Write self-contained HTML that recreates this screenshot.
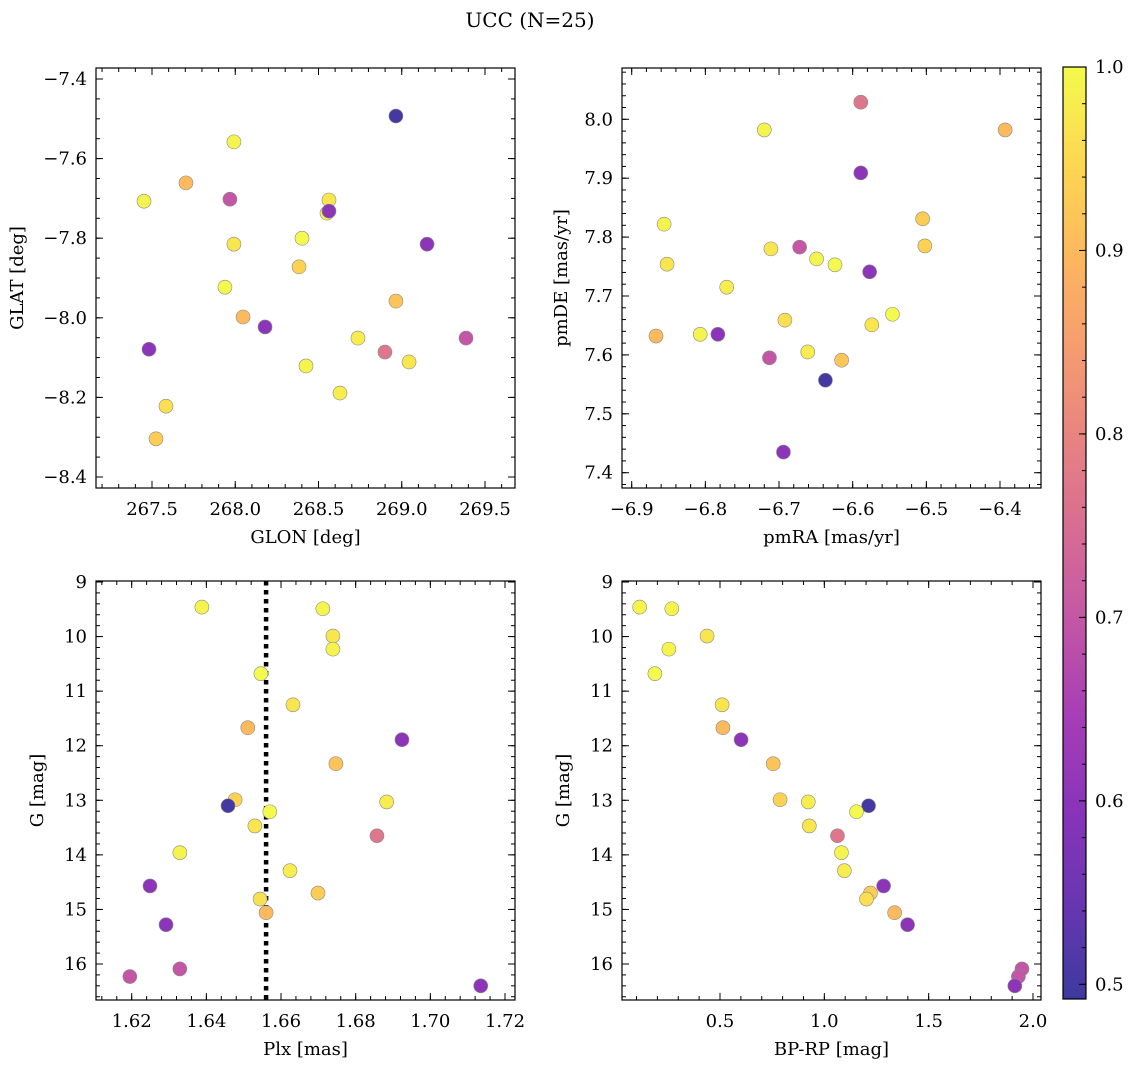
<!DOCTYPE html>
<html><head><meta charset="utf-8"><style>
html,body{margin:0;padding:0;background:#fff;}
svg{display:block;font-family:"DejaVu Serif","Liberation Serif",serif;}
</style></head><body>
<svg id="fig" width="1136" height="1067" viewBox="0 0 1136 1067" xmlns="http://www.w3.org/2000/svg">
<defs><linearGradient id="cbgrad" x1="0" y1="1" x2="0" y2="0"></linearGradient></defs>
<text x="530" y="27" text-anchor="middle" font-size="20">UCC (N=25)</text>
</svg>
<script>
const glon=[267.992,267.452,268.563,268.551,268.401,267.992,267.704,269.152,268.965,268.383,268.965,267.938,268.737,269.044,268.899,268.425,268.629,268.179,267.524,267.584,268.047,267.482,267.968,269.386,268.563];
const glat=[-7.558,-7.707,-7.704,-7.737,-7.800,-7.815,-7.661,-7.815,-7.958,-7.872,-7.493,-7.923,-8.051,-8.111,-8.086,-8.121,-8.189,-8.023,-8.304,-8.222,-7.998,-8.079,-7.702,-8.051,-7.732];
const pmra=[-6.720,-6.856,-6.711,-6.649,-6.624,-6.852,-6.393,-6.589,-6.615,-6.502,-6.637,-6.546,-6.771,-6.574,-6.589,-6.807,-6.661,-6.577,-6.505,-6.692,-6.867,-6.783,-6.672,-6.713,-6.694];
const pmde=[7.982,7.822,7.780,7.763,7.753,7.754,7.982,7.909,7.591,7.785,7.557,7.669,7.715,7.651,8.029,7.635,7.605,7.741,7.831,7.659,7.632,7.635,7.783,7.595,7.435];
const plx=[1.6388,1.6712,1.6739,1.6739,1.6546,1.6632,1.6511,1.6924,1.6747,1.6477,1.6458,1.6570,1.6883,1.6530,1.6857,1.6329,1.6624,1.6249,1.6699,1.6544,1.6560,1.6292,1.6329,1.6195,1.7135];
const gmag=[9.46,9.49,9.99,10.23,10.68,11.25,11.67,11.89,12.33,12.99,13.10,13.21,13.03,13.47,13.65,13.96,14.29,14.57,14.70,14.81,15.06,15.28,16.09,16.23,16.40];
const bprp=[0.115,0.269,0.438,0.255,0.188,0.510,0.514,0.601,0.755,0.788,1.212,1.154,0.923,0.928,1.063,1.082,1.096,1.284,1.221,1.202,1.337,1.399,1.947,1.930,1.913];
const prob=[0.99,0.99,0.97,0.99,1.00,0.97,0.90,0.60,0.92,0.94,0.50,1.00,0.98,0.97,0.77,0.99,0.98,0.60,0.93,0.96,0.90,0.60,0.70,0.70,0.60];
const plxRef=[1.656];
const cbTicks=[0.5,0.6,0.7,0.8,0.9,1.0];

const NS="http://www.w3.org/2000/svg";
const svg=document.getElementById('fig');
const VMIN=0.492,VMAX=1.0;
const FS=18;
const plasma=[[13,8,135],[65,4,157],[106,0,168],[143,13,164],[177,42,144],[204,71,120],[225,100,98],[242,132,75],[252,166,54],[252,206,37],[240,249,33]];
function cmap(v){let t=(v-VMIN)/(VMAX-VMIN);t=Math.max(0,Math.min(1,t));const f=t*10,i=Math.min(9,Math.floor(f)),r=f-i;
 const c=plasma[i].map((a,k)=>Math.round(a+(plasma[i+1][k]-a)*r));return c;}
function rgbA(c,a){return 'rgb('+c.map(x=>Math.round(x*a+255*(1-a))).join(',')+')';}
function mk(tag,attrs,parent){const e=document.createElementNS(NS,tag);for(const k in attrs)e.setAttribute(k,attrs[k]);(parent||svg).appendChild(e);return e;}
function lin(d0,p0,d1,p1){const s=(p1-p0)/(d1-d0);const f=v=>p0+(v-d0)*s;f.inv=p=>d0+(p-p0)/s;return f;}
function fmt(v,dec){const s=Math.abs(v).toFixed(dec);return (v<-1e-9?'\u2212':'')+s;}

function panel(cfg){
 const g=mk('g',{});
 
 
 const {L,R,T,B}=cfg;
 const xs=cfg.x,ys=cfg.y;
 const xlo=Math.min(xs.inv(L),xs.inv(R)),xhi=Math.max(xs.inv(L),xs.inv(R));
 const ylo=Math.min(ys.inv(T),ys.inv(B)),yhi=Math.max(ys.inv(T),ys.inv(B));
 const tk=mk('g',{stroke:'#000','stroke-width':1},g);
 
 
 function ticks(lo,hi,step,len,isX,labelDec){
  const s=Math.ceil(lo/step-1e-6);
  for(let i=s;i*step<=hi+1e-9;i++){const v=i*step;
   if(isX){const p=xs(v);mk('line',{x1:p,y1:B,x2:p,y2:B-len},tk);mk('line',{x1:p,y1:T,x2:p,y2:T+len},tk);
    if(labelDec!==undefined){const t=mk('text',{x:p,y:B+27,'text-anchor':'middle','font-size':FS,stroke:'none',fill:'#000'},g);t.textContent=fmt(v,labelDec);
     }}
   else{const p=ys(v);mk('line',{x1:L,y1:p,x2:L+len,y2:p},tk);mk('line',{x1:R,y1:p,x2:R-len,y2:p},tk);
    if(labelDec!==undefined){const t=mk('text',{x:L-9,y:p+6,'text-anchor':'end','font-size':FS,stroke:'none',fill:'#000'},g);t.textContent=fmt(v,labelDec);
     }}
  }}
 ticks(xlo,xhi,cfg.xmaj,7,true,cfg.xdec);ticks(xlo,xhi,cfg.xmin,4,true);
 ticks(ylo,yhi,cfg.ymaj,7,false,cfg.ydec);ticks(ylo,yhi,cfg.ymin,4,false);
 if(cfg.extra)cfg.extra(g);
 const pts=mk('g',{},g);
 
 
 for(let i=0;i<cfg.xd.length;i++){
  const c=mk('circle',{cx:xs(cfg.xd[i]),cy:ys(cfg.yd[i]),r:7,fill:rgbA(cmap(prob[i]),0.8),stroke:'#8a8a8a','stroke-width':0.6},pts);
  
  
 }
 const fr=mk('rect',{x:L,y:T,width:R-L,height:B-T,fill:'none',stroke:'#000','stroke-width':1.2},g);
 
 
 const xl=mk('text',{x:(L+R)/2,y:B+55,'text-anchor':'middle','font-size':FS},g);xl.textContent=cfg.xlabel;
 
 const yx=cfg.ylx,yy=(T+B)/2;
 const yl=mk('text',{x:yx,y:yy,'text-anchor':'middle','font-size':FS,transform:'rotate(-90 '+yx+' '+yy+')'},g);yl.textContent=cfg.ylabel;
 
}

panel({name:'glon-glat-panel',L:96,R:515,T:68,B:488,x:lin(267.5,152,269.5,485),y:lin(-7.4,79,-8.4,477),
 xmaj:0.5,xmin:0.1,xdec:1,ymaj:0.2,ymin:0.05,ydec:1,xd:glon,yd:glat,xlabel:'GLON [deg]',ylabel:'GLAT [deg]',ylx:23});
panel({name:'pm-panel',L:622,R:1041,T:68,B:488,x:lin(-6.9,631.7,-6.4,1000),y:lin(8.0,119.3,7.4,472.7),
 xmaj:0.1,xmin:0.02,xdec:1,ymaj:0.1,ymin:0.02,ydec:1,xd:pmra,yd:pmde,xlabel:'pmRA [mas/yr]',ylabel:'pmDE [mas/yr]',ylx:567});
panel({name:'plx-g-panel',L:96,R:515,T:581,B:1000,x:lin(1.62,131.7,1.72,505),y:lin(9,582,16,964),
 xmaj:0.02,xmin:0.004,xdec:2,ymaj:1,ymin:0.2,ydec:0,xd:plx,yd:gmag,xlabel:'Plx [mas]',ylabel:'G [mag]',ylx:43,
 extra:function(g){const xs=lin(1.62,131.7,1.72,505);const l=mk('line',{x1:xs(plxRef[0]),y1:581,x2:xs(plxRef[0]),y2:1000,stroke:'#000','stroke-width':4.5,'stroke-dasharray':'4.5,4.5'},g);
  }});
panel({name:'cmd-panel',L:622,R:1041,T:581,B:1000,x:lin(0.5,720,2.0,1033),y:lin(9,582,16,964),
 xmaj:0.5,xmin:0.1,xdec:1,ymaj:1,ymin:0.2,ydec:0,xd:bprp,yd:gmag,xlabel:'BP-RP [mag]',ylabel:'G [mag]',ylx:569});

// colorbar
const grad=document.getElementById('cbgrad');
for(let i=0;i<=20;i++){const v=VMIN+(VMAX-VMIN)*i/20;mk('stop',{offset:(i/20),'stop-color':rgbA(cmap(v),0.8)},grad);}
const cbT=67,cbB=999,cbL=1063,cbR=1086;
const cy=lin(VMIN,cbB,VMAX,cbT);
const cb=mk('g',{});


mk('rect',{x:cbL,y:cbT,width:cbR-cbL,height:cbB-cbT,fill:'url(#cbgrad)'},cb);
for(let v=0.5;v<=1.0001;v+=0.02){const p=cy(v);mk('line',{x1:cbR,y1:p,x2:cbR-4,y2:p,stroke:'#000','stroke-width':1},cb);}
cbTicks.forEach(v=>{const p=cy(v);mk('line',{x1:cbR,y1:p,x2:cbR-7,y2:p,stroke:'#000','stroke-width':1},cb);
 const t=mk('text',{x:cbR+9,y:p+6,'font-size':FS},cb);t.textContent=v.toFixed(1);
 });
mk('rect',{x:cbL,y:cbT,width:cbR-cbL,height:cbB-cbT,fill:'none',stroke:'#000','stroke-width':1.2},cb);
</script>
</body></html>
